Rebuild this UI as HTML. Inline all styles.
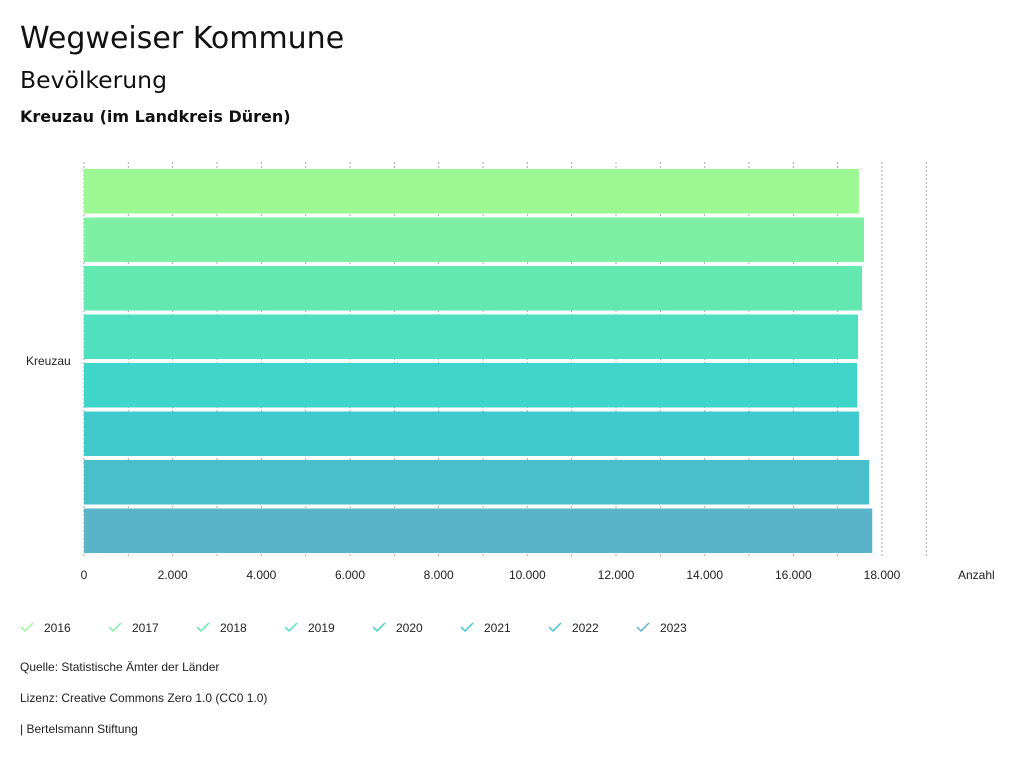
<!DOCTYPE html>
<html><head><meta charset="utf-8"><style>
body{margin:0;background:#fff;font-family:"Liberation Sans","DejaVu Sans",sans-serif;}
svg{display:block}
.h{font-family:"DejaVu Sans","Liberation Sans",sans-serif;}
</style></head><body>
<svg width="1024" height="761">
<text class="h" x="20" y="48" font-size="30" fill="#111">Wegweiser Kommune</text>
<text class="h" x="20" y="88" font-size="23.5" fill="#111">Bevölkerung</text>
<text class="h" x="20" y="122" font-size="16" font-weight="bold" fill="#111">Kreuzau (im Landkreis Düren)</text>
<g id="grid"></g><g id="bars"></g><g id="axis"></g><g id="legend"></g>
<text x="26" y="365" font-size="12" fill="#222">Kreuzau</text>
<text x="958" y="579" font-size="12" fill="#222">Anzahl</text>
<text x="20" y="671" font-size="12" fill="#222">Quelle: Statistische Ämter der Länder</text>
<text x="20" y="702" font-size="12" fill="#222">Lizenz: Creative Commons Zero 1.0 (CC0 1.0)</text>
<text x="20" y="733" font-size="12" fill="#222">| Bertelsmann Stiftung</text>
</svg>
<script>
const years=["2016","2017","2018","2019","2020","2021","2022","2023"];
const values=[17480,17595,17550,17460,17440,17480,17710,17780];
const colors=["#9cf893","#7ef0a3","#63e8b2","#4fe0c0","#3fd6c9","#40cacd","#4abfcc","#5bb3c9"];
const tickVals=[0,2000,4000,6000,8000,10000,12000,14000,16000,18000];
const tickLabels=["0","2.000","4.000","6.000","8.000","10.000","12.000","14.000","16.000","18.000"];
const NS="http://www.w3.org/2000/svg";
const x=v=>84+v*(798/18000);
function mk(t,a,p){const e=document.createElementNS(NS,t);for(const k in a)e.setAttribute(k,a[k]);p.appendChild(e);return e;}
const grid=document.getElementById('grid'),bars=document.getElementById('bars'),axis=document.getElementById('axis'),leg=document.getElementById('legend');
for(let v=0;v<=19000;v+=1000){
 const l=mk('line',{x1:x(v),x2:x(v),y1:162,y2:558,stroke:'#aaa','stroke-dasharray':'2,2'},grid);
 
 
}
values.forEach((v,i)=>{
 const r=mk('rect',{x:84,y:169+i*48.5,width:x(v)-84,height:44.5,fill:colors[i]},bars);
 
 
});
tickVals.forEach((v,i)=>{
 const t=mk('text',{x:x(v),y:579,'font-size':12,fill:'#222','text-anchor':'middle'},axis);
 t.textContent=tickLabels[i];
 
 
});
years.forEach((y,i)=>{
 const gx=20+i*88;
 const g=mk('g',{},leg);
 
 
 mk('path',{d:`M${gx+1} ${627} l4 4 l8 -8`,stroke:colors[i],'stroke-width':1.5,fill:'none'},g);
 const t=mk('text',{x:gx+24,y:632,'font-size':12,fill:'#222'},g);
 t.textContent=y;
});
</script>
</body></html>
